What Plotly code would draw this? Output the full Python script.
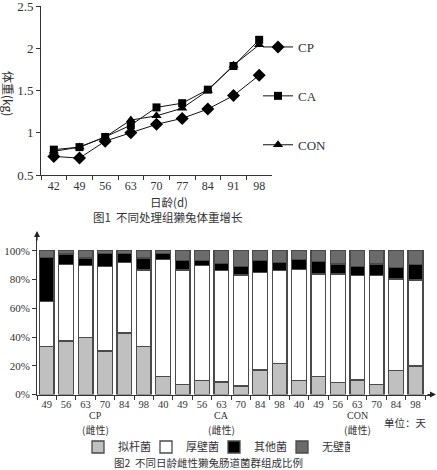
import plotly.graph_objects as go

W, H = 437, 470
def px(x): return x / W
def py(y): return 1 - y / H

# ---- Figure 1 data ----
days1 = ["42", "49", "56", "63", "70", "77", "84", "91", "98"]
cp = [0.72, 0.70, 0.90, 1.00, 1.10, 1.17, 1.28, 1.44, 1.68]
ca = [0.80, 0.83, 0.95, 1.09, 1.30, 1.35, 1.51, 1.79, 2.10]
con = [0.78, 0.83, 0.95, 1.15, 1.20, 1.29, 1.50, 1.80, 2.04]

# ---- Figure 2 data ----
groups = ["CP"] * 6 + ["CA"] * 7 + ["CON"] * 7
days2 = ["49", "56", "63", "70", "84", "98",
         "40", "49", "56", "63", "70", "84", "98",
         "40", "49", "56", "63", "70", "84", "98"]
bacteroides = [33.6, 37.3, 39.9, 30.2, 42.9, 33.6,
               12.4, 7.1, 9.9, 8.8, 6.0, 17.1, 21.7,
               9.6, 12.4, 8.3, 10.1, 7.1, 16.6, 19.8]
firmicutes = [30.9, 53.0, 49.7, 58.7, 48.8, 53.0,
              81.6, 79.5, 79.7, 77.4, 77.2, 67.9, 64.5,
              77.6, 71.5, 75.6, 72.6, 75.6, 63.8, 59.9]
others = [30.9, 7.4, 5.3, 9.3, 6.5, 8.3,
          4.2, 6.9, 3.9, 5.0, 5.7, 8.5, 5.7,
          6.8, 8.7, 6.9, 6.2, 8.1, 8.1, 10.6]
tenericutes = [4.6, 2.3, 5.1, 1.8, 1.8, 5.1,
               1.8, 6.5, 6.5, 8.8, 11.1, 6.5, 8.1,
               6.0, 7.4, 9.2, 11.1, 9.2, 11.5, 9.7]
pct_ticks = [0, 20, 40, 60, 80, 100]
pct_labels = ["0%", "20%", "40%", "60%", "80%", "100%"]
cats2 = [g + "-" + d for g, d in zip(groups, days2)]

FONT = "Liberation Serif, Times New Roman, Noto Sans CJK SC, serif"
CJK = "Noto Sans CJK SC, serif"
TXT = "#333333"

fig = go.Figure()

# line chart
for name, vals, sym, size in [("CP", cp, "diamond", 10),
                              ("CA", ca, "square", 8),
                              ("CON", con, "triangle-up", 9)]:
    fig.add_trace(go.Scatter(
        x=days1, y=vals, name=name, mode="lines+markers",
        line=dict(color="#111111", width=1),
        marker=dict(symbol=sym, size=size, color="#000000"),
        xaxis="x", yaxis="y", legend="legend", legendgroup=name))

# stacked bars
bar_specs = [("拟杆菌", bacteroides, "#c0c0c0"),
             ("厚壁菌", firmicutes, "#ffffff"),
             ("其他菌", others, "#000000"),
             ("无壁菌", tenericutes, "#6b6b6b")]
for name, vals, col in bar_specs:
    fig.add_trace(go.Bar(
        x=cats2, y=vals, name=name, width=0.76,
        marker=dict(color=col, line=dict(color="#4a4a4a", width=1.3)),
        xaxis="x2", yaxis="y2", legend="legend2"))

axis_common = dict(showgrid=False, zeroline=False, showline=True,
                   linecolor="#333333", linewidth=1, ticks="outside",
                   tickcolor="#333333", ticklen=4, tickwidth=1,
                   automargin=False, ticklabeloverflow="allow")

fig.update_layout(
    width=W, height=H, margin=dict(l=0, r=0, t=0, b=0, autoexpand=False),
    plot_bgcolor="white", paper_bgcolor="white",
    barmode="stack",
    font=dict(family=FONT, color=TXT, size=12),
    xaxis=dict(domain=[px(41), px(272)], anchor="y", type="category",
               range=[-0.5, 8.5], tickson="boundaries", tickangle=0,
               tickfont=dict(size=12, family=FONT, color=TXT), **axis_common),
    yaxis=dict(domain=[py(175), py(6)], anchor="x", range=[0.5, 2.5],
               tickvals=[0.5, 1, 1.5, 2, 2.5], ticktext=["0.5", "1", "1.5", "2", "2.5"],
               tickfont=dict(size=13, family=FONT, color=TXT), **axis_common),
    xaxis2=dict(domain=[px(37), px(431)], anchor="y2", type="category",
                range=[-0.5, 19.8], tickson="boundaries", tickangle=0,
                tickvals=cats2, ticktext=days2,
                tickfont=dict(size=10.5, family=FONT, color=TXT), **axis_common),
    yaxis2=dict(domain=[py(394.5), py(235)], anchor="x2", range=[0, 111],
                tickvals=pct_ticks, ticktext=pct_labels,
                tickfont=dict(size=11, family=FONT, color=TXT), **axis_common),
    legend=dict(x=px(258), y=py(32), xanchor="left", yanchor="top",
                traceorder="grouped", tracegroupgap=29,
                font=dict(size=13, family=FONT, color=TXT),
                bgcolor="rgba(0,0,0,0)"),
    legend2=dict(x=px(78), y=py(447), xanchor="left", yanchor="middle",
                 orientation="h", entrywidth=23, entrywidthmode="pixels",
                 traceorder="normal",
                 font=dict(size=11, family=CJK, color=TXT),
                 bgcolor="rgba(0,0,0,0)"),
    showlegend=True,
)

ann = []
def label(text, x, y, size, family=CJK, angle=0):
    ann.append(dict(text=text, x=px(x), y=py(y), xref="paper", yref="paper",
                    showarrow=False, xanchor="center", yanchor="middle",
                    font=dict(size=size, family=family, color=TXT), textangle=angle))

label("体重(kg)", 9, 93, 12, angle=90)
label("日龄(d)", 169, 202, 11.5)
label("图1  不同处理组獭兔体重增长", 168, 217, 11.5)

# group labels for bottom chart
for g, x in [("CP", 95.5), ("CA", 221.5), ("CON", 357)]:
    label(g, x, 415.5, 10, family=FONT)
    label("(雌性)", x, 429, 10)
label("单位：天", 405, 422, 10.5)
label("图2  不同日龄雌性獭兔肠道菌群组成比例", 208, 462, 10.5)

# axis arrows
ann.append(dict(x=px(436), y=py(394.5), ax=-10, ay=0, xref="paper", yref="paper",
                axref="pixel", ayref="pixel", text="", showarrow=True,
                arrowhead=2, arrowsize=1, arrowwidth=1.2, arrowcolor="#222222"))
ann.append(dict(x=px(37), y=py(231), ax=0, ay=11, xref="paper", yref="paper",
                axref="pixel", ayref="pixel", text="", showarrow=True,
                arrowhead=2, arrowsize=1, arrowwidth=1.2, arrowcolor="#222222"))
fig.update_layout(annotations=ann)

fig.write_html("out.html", config={"displayModeBar": False},
               post_script="document.body.style.margin='0';")
